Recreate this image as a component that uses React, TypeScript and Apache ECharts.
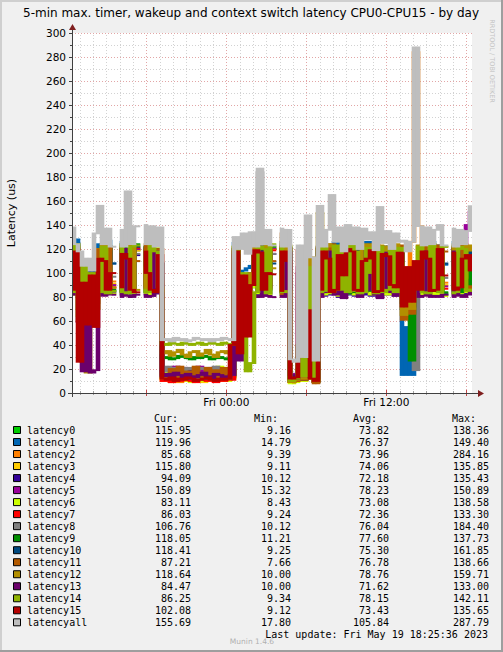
import React, { useEffect, useRef } from 'react';
import * as echarts from 'echarts';

// time axis in hours after Thu 12:00; 30 h window ending Fri 18:25
const START_H = 0.42;
const END_H = 30.42;
const STEP_H = 0.3;

const seriesNames = ['latency0','latency1','latency2','latency3','latency4','latency5','latency6','latency7','latency8','latency9','latency10','latency11','latency12','latency13','latency14','latency15','latencyall'];
const seriesColors = ['#00CC00','#0066B3','#FF8000','#FFCC00','#330099','#990099','#CCFF00','#FF0000','#808080','#008F00','#00487D','#B35A00','#B38F00','#6B006B','#8FB300','#B30000','#BEBEBE'];
const curVals = ['115.95','119.96','85.68','115.80','94.09','150.89','83.11','86.03','106.76','118.05','118.41','87.21','118.64','84.47','86.25','102.08','155.69'];
const minVals = ['9.16','14.79','9.39','9.11','10.12','15.32','8.43','9.24','10.12','11.21','9.25','7.66','10.00','10.00','9.34','9.12','17.80'];
const avgVals = ['73.82','76.37','73.96','74.06','72.18','78.23','73.08','72.36','76.04','77.60','75.30','76.78','78.76','71.62','78.15','73.43','105.84'];
const maxVals = ['138.36','149.40','284.16','135.85','135.43','150.89','138.58','133.30','184.40','137.73','161.85','138.66','159.71','133.00','142.11','135.65','287.79'];

const hourMarks = [1,2,3,4,5,6,7,8,9,10,11,12,13,14,15,16,17,18,19,20,21,22,23,24,25,26,27,28,29,30];
const xLabelHours = [12, 24];
const xLabelTexts = ['Fri 00:00', 'Fri 12:00'];

const latency0 = [84,121,82,95,84,90,86,118,84,120,85, null, 120,84,121,83,119, null, 84,121,83,120,85,
  18,14,11,16,12,10,13,12,11,14,10,12,13,11,10,12,11,13,
  120,84,86,85,88,121,84,120,83,120, null, 121,83,120, 9,10,15,11,20,12,9,
  120,83,121,84,119,82,121,84,120,83,121,84,119,83,121,82,120,84,121,83,119,
  80,82,84,86, 83,121,84,120,82,119,83, null, 83,121,84,120,85,115.95];
const latency1 = [108,128,100,110,102,108,104,124,106,127,108, null, 126,106,121,105,120, null, 106,122,105,126,108,
  16,18,15,19,17,16,18,15,17,19,16,18,15,17,16,18,17,16,
  125,100,102,104,106,121,105,126,107,120, null, 126,104,121, 15,16,25,15,30,17,15,
  120,105,122,106,126,104,119,106,121,105,120,106,126,105,121,104,119,106,122,105,120,
  15,55,15,80, 105,121,106,126,104,120,107, null, 105,126,106,121,107,119.96];
const latency2 = [92,120,90,110,92,105,95,118,92,121,93, null, 120,92,121,91,119, null, 92,121,91,120,93,
  10,13,11,15,9,12,14,11,10,16,12,11,13,10,15,12,11,13,
  120,90,92,91,95,121,92,120,91,120, null, 121,84,120, 9,11,20,10,30,12,9,
  119,91,120,92,121,90,120,92,119,91,121,92,120,91,119,90,121,92,120,91,120,
  80,78,126,284, 139,120,92,121,90,119,92, null, 91,120,92,121,93,85.68];
const latency3 = [90,121,88,105,90,100,92,120,90,121,91, null, 120,90,121,89,119, null, 90,121,89,120,91,
  11,14,9,18,12,10,15,20,11,13,9,16,12,20,10,14,11,13,
  120,88,90,89,95,121,90,120,89,120, null, 121,90,120, 9,10,25,11,30,12,9,
  121,89,120,90,119,88,121,90,120,89,121,90,119,89,120,88,121,90,120,89,119,
  85,90,88,95, 89,121,90,120,88,119,90, null, 89,121,90,120,91,115.8];
const latency4 = [82,118,84,100,86,95,88,115,82,117,84, null, 116,82,118,81,115, null, 82,117,81,116,83,
  15,12,18,11,20,14,13,17,12,19,15,11,16,18,13,12,17,14,
  116,82,88,84,90,117,82,118,81,116, null, 117,82,118, 12,10,20,11,25,13,10,
  117,81,118,82,116,80,119,82,117,81,118,82,116,81,118,80,117,82,118,81,116,
  82,84,83,88, 81,117,82,118,81,116,82, null, 81,117,82,115,83,94.09];
const latency5 = [88,122,86,105,90,100,92,120,88,121,90, null, 121,89,120,87,120, null, 88,121,89,121,90,
  18,20,16,22,17,21,19,16,20,22,17,18,21,16,20,19,17,18,
  121,88,92,90,95,122,89,121,88,121, null, 122,89,121, 16,15,105,18,40,20,16,
  121,88,122,89,121,87,120,90,122,88,121,89,121,88,120,87,122,89,121,88,121,
  86,92,88,100, 89,122,88,121,90,121,89, null, 88,121,89,121,140,150.89];
const latency6 = [82,122,84,110,86,100,84,120,82,122,83, null, 122,82,121,83,122, null, 83,122,82,121,84,
  12,18,10,15,11,20,13,9,14,16,10,12,16,11,22,13,10,12,
  122,84,90,85,88,122,83,121,82,122, null, 121,81,122, 8,9,15,10,20,12,9,
  121,82,122,83,122,81,121,83,122,82,121,84,122,82,121,83,122,82,121,83,122,
  83,85,84,90, 82,122,83,121,82,122,81, null, 82,122,83,121,84,83.11];
const latency7 = [86,120,85,100,88,95,90,118,87,121,88, null, 120,87,119,86,121, null, 87,120,88,119,86,
  10,11,9,12,10,11,13,10,9,12,11,10,12,9,11,10,12,11,
  119,85,90,86,95,120,86,121,87,119, null, 120,86,121, 9,10,20,11,30,12,9,
  120,87,121,86,119,88,122,86,120,87,121,86,120,88,119,87,121,86,120,87,121,
  80,90,85,95, 87,120,86,121,88,119,87, null, 87,121,86,120,88,86.03];
const latency8 = [95,118,90,100,92,98,95,115,96,118,97, null, 117,96,119,95,116, null, 96,118,95,117,97,
  18,22,16,21,19,15,21,20,17,20,21,16,19,22,18,20,17,20,
  117,90,92,95,100,118,184,117,97,116, null, 118,96,117, 12,15,30,14,40,18,11,
  118,96,119,97,117,95,120,96,118,97,116,95,119,96,117,98,118,96,119,97,118,
  80,75,60,19, 96,118,95,117,97,119,96, null, 96,118,97,116,95,106.76];
const latency9 = [88,124,80,95,75,90,85,118,84,122,86, null, 120,85,122,84,124, null, 84,122,86,120,85,
  29,30,28,29,31,30,29,28,30,29,31,30,28,29,30,29,28,30,
  120,80,90,85,95,122,84,120,86,122, null, 120,84,122, 12,11,40,13,50,20,12,
  120,84,122,85,118,86,124,83,120,84,122,86,118,85,122,84,120,86,122,83,120,
  75,80,27,85, 84,120,86,122,85,118,84, null, 85,120,84,122,86,118.05];
const latency10 = [110,124,90,105,95,108,100,118,105,122,108, null, 124,106,100,118,122, null, 106,122,104,100,108,
  13,15,12,17,14,16,12,18,13,15,14,12,16,13,17,14,12,15,
  120,85,95,88,100,122,105,110,122,108, null, 122,100,120, 10,12,20,11,30,15,9,
  122,104,110,123,100,106,124,102,112,120,104,118,100,124,106,112,122,104,120,100,122,
  70,95,72,100, 106,122,104,110,123,104,108, null, 106,122,104,118,107,118.41];
const latency11 = [95,122,70,100,65,95,75,120,100,122,88, null, 122,100,86,124,110, null, 89,124,102,88,120,
  12,15,20,11,22,14,18,13,22,12,16,21,11,19,13,21,12,15,
  120,70,67,90,95,122,100,86,124,110, null, 133,82,120, 9,10,25,11,40,20,8,
  122,100,86,124,96,88,122,110,124,86,102,123,88,110,124,96,87,120,118,90,123,
  61,85,66,100, 88,122,104,90,123,86,118, null, 88,122,100,124,89,87.21];
const latency12 = [100,124,60,60,17,90,70,112,124,100,88, null, 124,110,88,123,86, null, 85,118,123,100,86,
  33,35,31,34,36,32,30,34,35,31,33,36,32,30,34,35,33,31,
  122,67,85,66,100,124,110,88,123,104, null, 124,86,123, 9,11,30,12,80,113,10,
  150,110,124,122,88,112,124,100,85,123,120,96,124,110,88,123,122,90,112,124,108,
  65,90,70,95, 123,104,88,124,112,90,122, null, 86,124,110,96,123,118.64];
const latency13 = [82,120,59,18,85,17,19,95,81,84,82, null, 80,120,81,80,82, null, 82,80,81,118,83,
  14,16,13,17,15,12,16,14,13,15,17,14,12,16,15,13,14,15,
  115,27,88,80,82,81,80,118,81,80, null, 81,80,117, 15,12,100,14,60,13,12,
  80,84,118,86,82,85,79,84,118,86,80,84,120,86,82,79,85,117,84,81,86,
  82,88,85,94, 80,81,118,80,81,80,82, null, 80,118,81,80,82,84.47];
const latency14 = [84,124,64,110,63,100,70,84,122,83,85, null, 124,84,83,122,123, null, 86,84,124,118,88,
  41,40,42,41,40,42,41,40,41,42,40,41,42,41,40,42,41,40,
  122,62,100,18,25,84,122,120,83,124, null, 122,84,85, 10,12,40,14,105,40,11,
  84,122,85,84,123,86,120,84,124,118,83,84,121,100,83,122,84,86,119,84,121,
  80,95,78,100, 122,84,83,124,86,84,122, null, 83,84,122,120,85,86.25];
const latency15 = [86,118,26,92,57,98,55,112,110,86,100, null, 88,116,112,86,84, null, 118,100,86,84,115,
  12,11,13,10,12,11,13,12,10,11,12,13,11,10,12,11,12,40,
  118,33,98,47,90,119,117,86,100,99, null, 85,118,110, 12,13,119,36,69,12,10,
  86,118,112,84,86,115,98,120,118,86,85,110,112,119,84,85,116,114,90,88,117,
  72,105,76,110, 86,118,112,85,86,120,98, null, 117,86,88,112,115,102.08];
const latencyAll = [138,124,118,106,112,102,133,156,124,137,122, null, 136,122,168,124,139, null, 140,124,139,122,138,
  44,45,43,46,44,45,43,44,46,45,44,45,43,45,44,46,45,44,
  130,120,133,116,134,122,187,124,136,123, null, 137,122,136, 28,26,123,30,148,113,27,
  156,122,136,165,126,138,118,140,124,138,120,137,128,134,119,155,125,135,120,133,126,
  127,118,126,288, 139,123,138,124,136,140,123, null, 137,122,136,124,135,155.69];

const seriesValues = [latency0, latency1, latency2, latency3, latency4, latency5, latency6, latency7, latency8,
  latency9, latency10, latency11, latency12, latency13, latency14, latency15, latencyAll];

const MONO = '"DejaVu Sans Mono", monospace';
const SANS = '"DejaVu Sans", sans-serif';

function buildDataSeries(vals: (number | null)[], color: string) {
  const data: number[][] = [];
  for (let i = 0; i < vals.length - 1; i++) {
    const a = vals[i];
    if (a == null) continue;
    const bRaw = vals[i + 1];
    const b = bRaw == null ? a : bRaw;
    data.push([START_H + STEP_H * i, Math.min(a, b), Math.max(a, b), START_H + STEP_H * (i + 1)]);
  }
  return {
    type: 'custom',
    z: 2,
    silent: true,
    clip: true,
    data,
    encode: { x: [0, 3], y: [1, 2] },
    renderItem: (_params: any, api: any) => {
      const p1 = api.coord([api.value(0), api.value(1)]);
      const p2 = api.coord([api.value(3), api.value(2)]);
      const x = p1[0] - 0.3;
      const w = p2[0] - p1[0] + 0.6;
      const top = p2[1] - 0.9;
      const h = Math.max(p1[1] - p2[1] + 1.8, 2);
      return { type: 'rect', shape: { x, y: top, width: w, height: h }, style: { fill: color } };
    },
  };
}

function buildGraphic() {
  const els: any[] = [];
  els.push({ type: 'rect', shape: { x: 0, y: 0, width: 503, height: 2 }, style: { fill: '#CFCFCF' }, z: 100 });
  els.push({ type: 'rect', shape: { x: 0, y: 0, width: 2, height: 652 }, style: { fill: '#CFCFCF' }, z: 100 });
  els.push({ type: 'rect', shape: { x: 0, y: 650, width: 503, height: 2 }, style: { fill: '#9E9E9E' }, z: 100 });
  els.push({ type: 'rect', shape: { x: 501, y: 0, width: 2, height: 652 }, style: { fill: '#9E9E9E' }, z: 100 });
  els.push({ type: 'line', shape: { x1: 68, y1: 393.5, x2: 479, y2: 393.5 }, style: { stroke: '#404040', lineWidth: 1 }, z: 100 });
  els.push({ type: 'polygon', shape: { points: [[478, 390], [484, 393.5], [478, 397]] }, style: { fill: '#7F1F1F' }, z: 100 });
  els.push({ type: 'line', shape: { x1: 72.5, y1: 397, x2: 72.5, y2: 29 }, style: { stroke: '#404040', lineWidth: 1 }, z: 100 });
  els.push({ type: 'polygon', shape: { points: [[69, 30], [72.5, 24], [76, 30]] }, style: { fill: '#7F1F1F' }, z: 100 });
  els.push({ type: 'text', x: 251, y: 13, z: 100, style: { text: '5-min max. timer, wakeup and context switch latency CPU0-CPU15 - by day', fontSize: 12, fontFamily: SANS, fill: '#000', align: 'center', verticalAlign: 'middle' } });
  els.push({ type: 'text', x: 11, y: 213, rotation: Math.PI / 2, z: 100, style: { text: 'Latency (us)', fontSize: 11, fontFamily: SANS, fill: '#000', align: 'center', verticalAlign: 'middle' } });
  els.push({ type: 'text', x: 492, y: 61, rotation: -Math.PI / 2, z: 100, style: { text: 'RRDTOOL / TOBI OETIKER', fontSize: 6.5, fontFamily: SANS, fill: '#C4C4C4', align: 'center', verticalAlign: 'middle' } });
  const headerY = 418;
  const heads: [string, number][] = [['Cur:', 178], ['Min:', 278], ['Avg:', 377], ['Max:', 476]];
  heads.forEach(([t, x]) => {
    els.push({ type: 'text', x, y: headerY, z: 100, style: { text: t, fontSize: 10, fontFamily: MONO, fill: '#000', align: 'right', verticalAlign: 'middle' } });
  });
  const rowY0 = 430;
  const rowH = 12.02;
  seriesNames.forEach((n, k) => {
    const y = rowY0 + rowH * k;
    els.push({ type: 'rect', shape: { x: 13.5, y: y - 3.5, width: 7, height: 7 }, style: { fill: seriesColors[k], stroke: '#000', lineWidth: 1 }, z: 100 });
    els.push({ type: 'text', x: 27, y, z: 100, style: { text: n, fontSize: 10, fontFamily: MONO, fill: '#000', align: 'left', verticalAlign: 'middle' } });
    const cols: [string, number][] = [[curVals[k], 191], [minVals[k], 291], [avgVals[k], 389], [maxVals[k], 489]];
    cols.forEach(([t, x]) => {
      els.push({ type: 'text', x, y, z: 100, style: { text: t, fontSize: 10, fontFamily: MONO, fill: '#000', align: 'right', verticalAlign: 'middle' } });
    });
  });
  els.push({ type: 'text', x: 488, y: 634, z: 100, style: { text: 'Last update: Fri May 19 18:25:36 2023', fontSize: 10, fontFamily: MONO, fill: '#000', align: 'right', verticalAlign: 'middle' } });
  els.push({ type: 'text', x: 252, y: 641, z: 100, style: { text: 'Munin 1.4.6', fontSize: 7.5, fontFamily: SANS, fill: '#B0B0B0', align: 'center', verticalAlign: 'middle' } });
  return els;
}

export default function App() {
  const ref = useRef<HTMLDivElement>(null);
  useEffect(() => {
    if (!ref.current) return;
    const chart = echarts.init(ref.current, null, { renderer: 'svg' });
    const gridSeries = {
      type: 'custom',
      z: 1,
      silent: true,
      clip: false,
      data: hourMarks.map((h) => [h, 0]),
      encode: { x: 0, y: 1 },
      renderItem: (_params: any, api: any) => {
        const h = api.value(0);
        const pb = api.coord([h, 0]);
        const pt = api.coord([h, 300]);
        const x = Math.round(pb[0]) + 0.5;
        const major = h % 6 === 0;
        const tl = major ? 3 : 2;
        return {
          type: 'group',
          children: [
            { type: 'line', shape: { x1: x, y1: pb[1], x2: x, y2: pt[1] }, style: { stroke: major ? '#E2A6A6' : '#D2D2D2', lineWidth: 1, lineDash: [1, 2] } },
            { type: 'line', shape: { x1: x, y1: pb[1] - tl, x2: x, y2: pb[1] + tl }, style: { stroke: major ? '#C04848' : '#A0A0A0', lineWidth: 1 } },
          ],
        };
      },
    };
    const labelSeries = {
      type: 'custom',
      z: 5,
      silent: true,
      clip: false,
      data: xLabelHours.map((h) => [h, 0]),
      encode: { x: 0, y: 1 },
      renderItem: (params: any, api: any) => {
        const p = api.coord([api.value(0), 0]);
        return { type: 'text', x: p[0], y: p[1] + 9, style: { text: xLabelTexts[params.dataIndex], fill: '#000', fontSize: 10.5, fontFamily: SANS, align: 'center', verticalAlign: 'middle' } };
      },
    };
    const dataSeries = seriesValues.map((v, k) => buildDataSeries(v, seriesColors[k]));
    chart.setOption({
      animation: false,
      backgroundColor: '#F0F0F0',
      grid: { left: 72, top: 33, width: 400, height: 360, show: true, backgroundColor: '#FFFFFF', borderWidth: 0, containLabel: false, outerBoundsMode: 'none' },
      xAxis: { type: 'value', min: START_H, max: END_H, axisLine: { show: false }, axisTick: { show: false }, axisLabel: { show: false }, splitLine: { show: false } },
      yAxis: {
        type: 'value', min: 0, max: 300, interval: 20,
        axisLine: { show: false },
        axisTick: { show: true, length: 3, lineStyle: { color: '#404040' } },
        minorTick: { show: true, splitNumber: 2, length: 2, lineStyle: { color: '#404040' } },
        axisLabel: { color: '#000', fontFamily: SANS, fontSize: 10.5, margin: 6 },
        splitLine: { show: true, lineStyle: { color: '#E2A6A6', type: [1, 2], width: 1 } },
        minorSplitLine: { show: true, lineStyle: { color: '#D2D2D2', type: [1, 2], width: 1 } },
      },
      series: [gridSeries, labelSeries, ...dataSeries],
      graphic: { elements: buildGraphic() },
    });
    return () => chart.dispose();
  }, []);
  return <div ref={ref} style={{ position: 'absolute', left: 0, top: 0, width: 503, height: 652 }} />;
}
